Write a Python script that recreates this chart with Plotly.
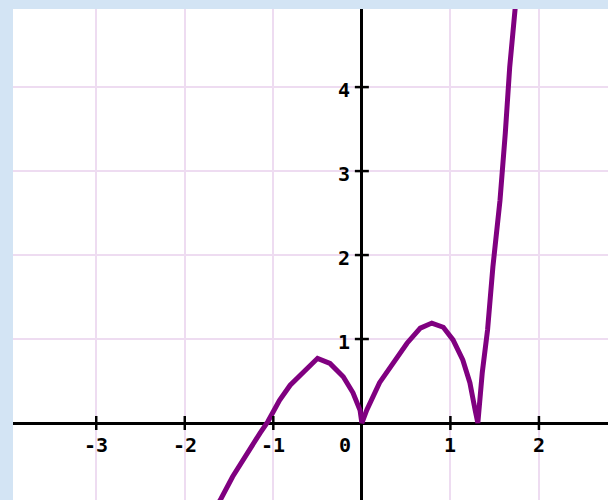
import plotly.graph_objects as go

# curve points
x_vals = [-1.75, -1.60, -1.46, -1.30, -1.15, -1.06, -0.93, -0.81, -0.67, -0.50,
          -0.36, -0.21, -0.10, -0.02, 0.0, 0.056, 0.20, 0.35, 0.51, 0.66,
          0.79, 0.92, 1.03, 1.14, 1.22, 1.28, 1.31, 1.36, 1.42, 1.48,
          1.56, 1.62, 1.67, 1.73, 1.77]
y_vals = [-1.15, -0.92, -0.64, -0.36, -0.12, 0.02, 0.27, 0.45, 0.60, 0.77,
          0.71, 0.55, 0.36, 0.15, 0.0, 0.155, 0.48, 0.71, 0.95, 1.13,
          1.19, 1.14, 0.99, 0.75, 0.48, 0.15, 0.0, 0.6, 1.11, 1.86,
          2.65, 3.45, 4.24, 4.92, 5.4]

x_ticks = [-3, -2, -1, 1, 2]
x_tick_labels = ["-3", "-2", "-1", "1", "2"]
y_ticks = [1, 2, 3, 4]
y_tick_labels = ["1", "2", "3", "4"]
origin_label = "0"

x_range = [-3.94, 2.78]
y_range = [-0.917, 4.93]

LABEL_FONT = dict(family="DejaVu Sans Mono", size=20, color="black")

fig = go.Figure()

fig.add_trace(go.Scatter(
    x=x_vals, y=y_vals, mode="lines",
    line=dict(color="#800080", width=5),
    hoverinfo="skip", showlegend=False,
))

# tick marks on the axes
fig.add_trace(go.Scatter(
    x=x_ticks, y=[0] * len(x_ticks), mode="markers",
    marker=dict(symbol="line-ns", size=10, line=dict(color="black", width=2.5)),
    hoverinfo="skip", showlegend=False, cliponaxis=False,
))
fig.add_trace(go.Scatter(
    x=[0] * len(y_ticks), y=y_ticks, mode="markers",
    marker=dict(symbol="line-ew", size=10, line=dict(color="black", width=2.5)),
    hoverinfo="skip", showlegend=False, cliponaxis=False,
))

annotations = []
for xv, lab in zip(x_ticks, x_tick_labels):
    annotations.append(dict(x=xv, y=0, xref="x", yref="y", text=f"<b>{lab}</b>",
                            showarrow=False, yshift=-22, font=LABEL_FONT))
for yv, lab in zip(y_ticks, y_tick_labels):
    annotations.append(dict(x=0, y=yv, xref="x", yref="y", text=f"<b>{lab}</b>",
                            showarrow=False, xshift=-18, yshift=-3, font=LABEL_FONT))
annotations.append(dict(x=0, y=0, xref="x", yref="y", text=f"<b>{origin_label}</b>",
                        showarrow=False, xshift=-17, yshift=-22, font=LABEL_FONT))

grid_color = "#eedcf1"
fig.update_layout(
    width=608, height=500,
    margin=dict(l=13, r=0, t=9, b=0),
    paper_bgcolor="#d3e4f4",
    plot_bgcolor="white",
    annotations=annotations,
    xaxis=dict(range=x_range, dtick=1, tick0=0, showticklabels=False, ticks="",
               showgrid=True, gridcolor=grid_color, gridwidth=1.5,
               zeroline=True, zerolinecolor="black", zerolinewidth=3,
               fixedrange=True, showline=False),
    yaxis=dict(range=y_range, dtick=1, tick0=0, showticklabels=False, ticks="",
               showgrid=True, gridcolor=grid_color, gridwidth=1.5,
               zeroline=True, zerolinecolor="black", zerolinewidth=3,
               fixedrange=True, showline=False),
    showlegend=False,
)

fig.write_html(
    "out.html",
    config={"displayModeBar": False},
    post_script="document.body.style.margin='0';document.body.style.background='#d3e4f4';",
)
